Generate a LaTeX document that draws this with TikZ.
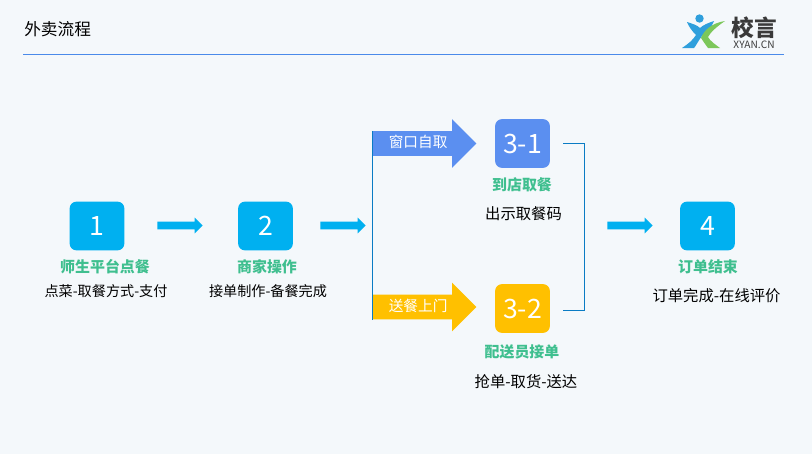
\documentclass[tikz,border=0pt]{standalone}
\usepackage{fontspec}
\setmainfont{Noto Sans CJK SC}
\usetikzlibrary{shapes.arrows}
\definecolor{pageBg}{HTML}{F4F8FB}
\definecolor{flowBlue}{HTML}{00B0F0}
\definecolor{pickBlue}{HTML}{5B8FF0}
\definecolor{sendGold}{HTML}{FFC000}
\definecolor{titleGreen}{HTML}{3FBF8F}
\definecolor{lineBlue}{HTML}{0A7CC4}
\definecolor{ruleBlue}{HTML}{4A8AEA}
\definecolor{logoBlue}{HTML}{2F9FDC}
\definecolor{logoGreen}{HTML}{7CC75A}
\definecolor{logoText}{HTML}{3A3A3A}
\tikzset{
	stepBox/.style={rectangle, minimum width=41pt, minimum height=36.5pt, rounded corners=5pt, text=white, font=\fontsize{20}{20}\selectfont, inner sep=0pt},
	stepTitle/.style={text=titleGreen, font=\fontsize{11.2}{12}\selectfont\bfseries, inner sep=0pt},
	stepNote/.style={text=black, font=\fontsize{10.6}{12}\selectfont, inner sep=0pt},
	wideNote/.style={text=black, font=\fontsize{11.5}{13}\selectfont, inner sep=0pt},
	thinArrow/.style={single arrow, fill=flowBlue, inner xsep=0pt, inner ysep=2.75pt, minimum width=11.5pt, minimum height=34pt, single arrow head extend=3pt, anchor=tail},
	bigArrow/.style={single arrow, text height=12pt, text depth=6pt, inner xsep=0pt, inner ysep=0pt, minimum height=78pt, single arrow head extend=9pt, anchor=tail, text=white, font=\fontsize{11}{12}\selectfont}
}
\begin{document}
\begin{tikzpicture}[x=0.75pt, y=-0.75pt]
	\fill[pageBg] (0,0) rectangle (812,454);
	\useasboundingbox (0,0) rectangle (812,454);

	% title and rule
	\node[inner sep=0pt, anchor=west, font=\fontsize{12.5}{14}\selectfont](pageTitle) at (24,29){外卖流程};
	\coordinate(ruleLeft) at (23,54.5);
	\coordinate(ruleRight) at (784,54.5);
	\draw[ruleBlue, line width=0.7pt] (ruleLeft) -- (ruleRight);

	% draw logo
	\fill[logoBlue] (699.5,18.5) circle (4.2);
	\fill[logoBlue] (687,22) .. controls (693,24) and (697,25) .. (700,28) .. controls (703,25) and (708,23) .. (714,21) .. controls (712,28) and (705,32) .. (702,36) .. controls (698,41) and (696,46) .. (694,48) -- (682,48) .. controls (688,44) and (693,40) .. (696,35) .. controls (692,31) and (689,27) .. (687,22) -- cycle;
	\fill[logoGreen] (725,21) .. controls (716,27) and (710,33) .. (708,37) .. controls (710,41) and (716,45) .. (720,48) -- (708,48) .. controls (705,44) and (703,41) .. (701,38) .. controls (704,30) and (712,23) .. (725,21) -- cycle;
	\node[inner sep=0pt, text=logoText, font=\fontsize{17}{18}\selectfont\bfseries](logoName) at (754.5,27.5){校言};
	\node[inner sep=0pt, text=logoText, font=\fontsize{7.6}{8}\selectfont](logoSite) at (754,44.5){XYAN.CN};

	% draw step boxes
	\node[stepBox, fill=flowBlue](step1) at (97,226){1};
	\node[stepBox, fill=flowBlue](step2) at (265.5,226){2};
	\node[stepBox, fill=pickBlue](step31) at (522.5,143.5){3-1};
	\node[stepBox, fill=sendGold](step32) at (522.5,308.5){3-2};
	\node[stepBox, fill=flowBlue](step4) at (707.5,226){4};

	% draw step labels
	\node[stepTitle](title1) at (105,266.5){师生平台点餐};
	\node[stepTitle](title2) at (267,266.5){商家操作};
	\node[stepTitle](title31) at (522,185){到店取餐};
	\node[stepTitle](title32) at (522,351.5){配送员接单};
	\node[stepTitle](title4) at (708,266.5){订单结束};
	\node[stepNote](note1) at (106,291){点菜-取餐方式-支付};
	\node[stepNote](note2) at (268,291){接单制作-备餐完成};
	\node[wideNote](note31) at (523.5,213.5){出示取餐码};
	\node[wideNote](note32) at (526,382){抢单-取货-送达};
	\node[wideNote](note4) at (716.5,296){订单完成-在线评价};

	% draw thin arrows
	\node[thinArrow](flow12) at (157,225.5){};
	\node[thinArrow](flow23) at (320,225.5){};
	\node[thinArrow](flow34) at (607,225.5){};

	% draw branch arrows
	\node[bigArrow, fill=pickBlue](pickArrow) at (372,143.5){窗口自取};
	\node[bigArrow, fill=sendGold](sendArrow) at (372,307){送餐上门};

	% draw connecting lines
	\draw[lineBlue, line width=0.75pt] ([xshift=0.4pt]pickArrow.after tail) -- ([xshift=0.4pt]sendArrow.before tail);
	\coordinate(bracketTop) at (563,143.5);
	\coordinate(bracketBottom) at (563,310.5);
	\draw[lineBlue, line width=0.75pt] (bracketTop) -- (584,143.5) -- (584,310.5) -- (bracketBottom);
\end{tikzpicture}
\end{document}
